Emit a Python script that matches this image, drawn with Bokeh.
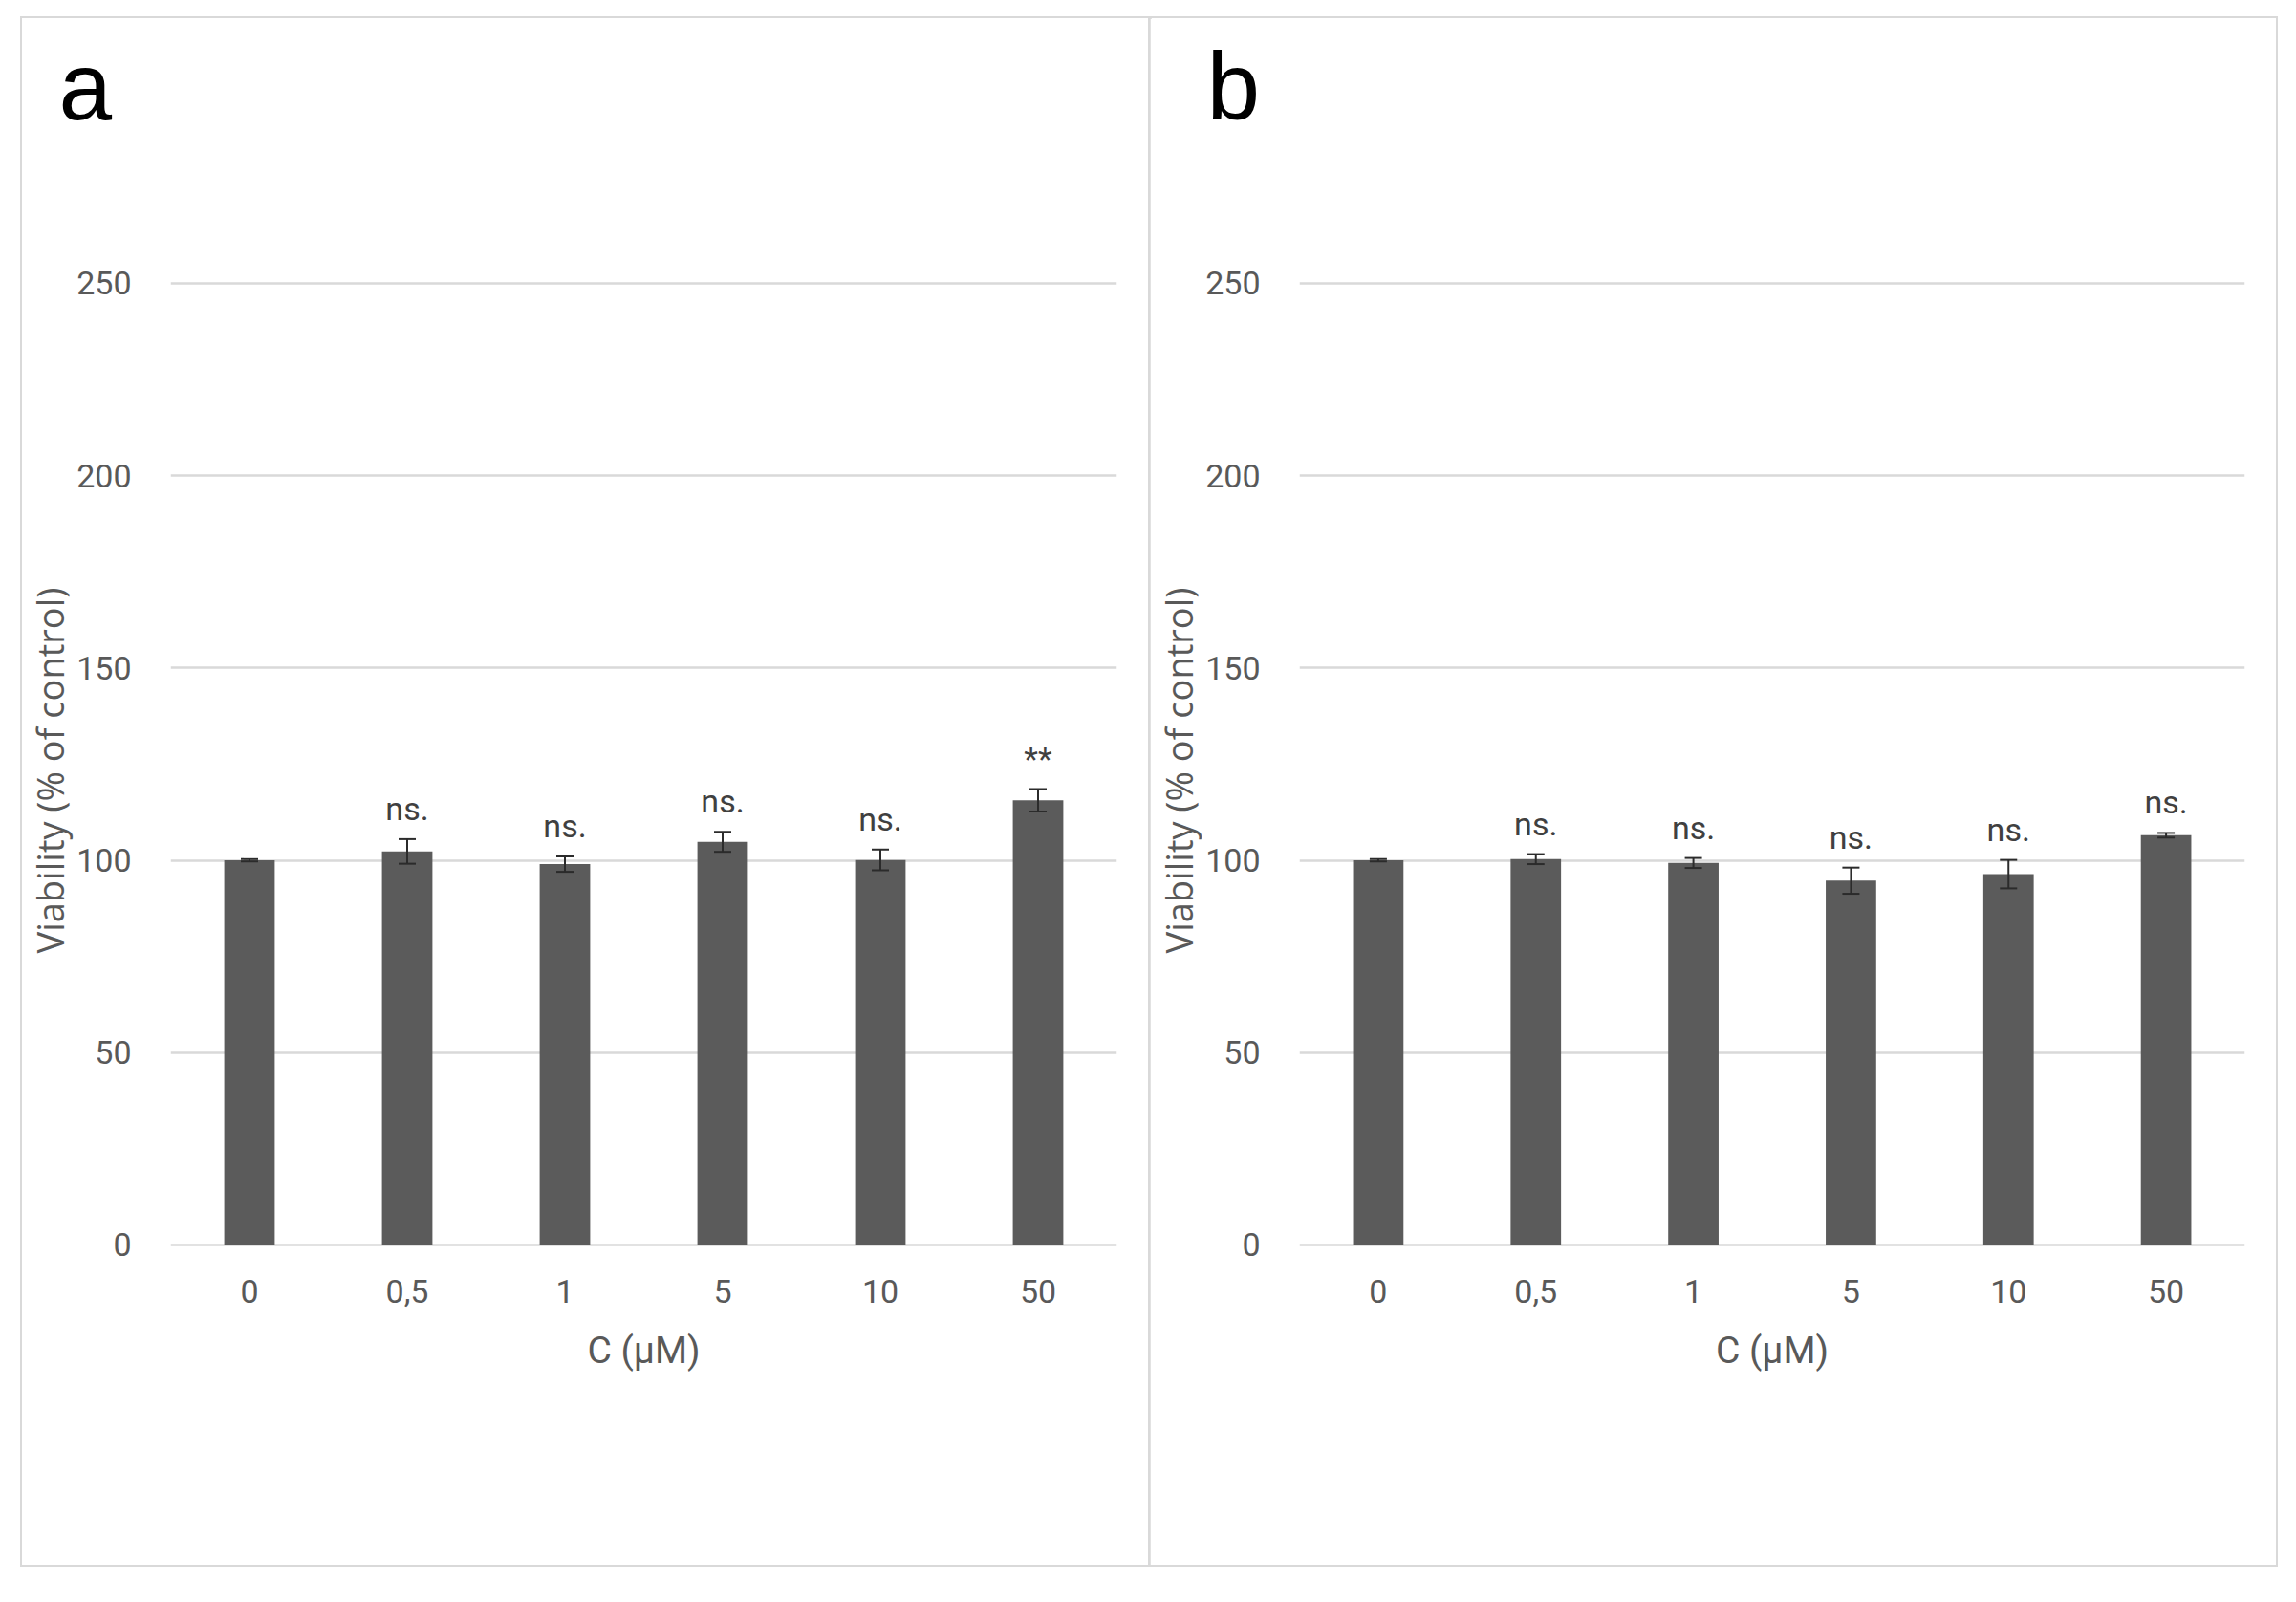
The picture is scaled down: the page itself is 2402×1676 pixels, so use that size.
from bokeh.plotting import figure
from bokeh.models import ColumnDataSource, Whisker, TeeHead, FixedTicker, Range1d, Title
from bokeh.layouts import row
from bokeh.core.properties import value
from bokeh.embed import file_html
from bokeh.resources import INLINE

# ---- data ----
categories = ["0", "0,5", "1", "5", "10", "50"]
y_ticks = [0, 50, 100, 150, 200, 250]

mean_a = [100.0, 102.3, 99.0, 104.8, 100.1, 115.6]
err_a = [0.3, 3.2, 2.0, 2.6, 2.7, 2.9]
sig_a = ["", "ns.", "ns.", "ns.", "ns.", "**"]

mean_b = [100.0, 100.3, 99.3, 94.7, 96.4, 106.5]
err_b = [0.3, 1.3, 1.3, 3.4, 3.7, 0.6]
sig_b = ["", "ns.", "ns.", "ns.", "ns.", "ns."]

x_title = "C (µM)"
y_title = "Viability (% of control)"

BAR = "#5b5b5b"
GRID = "#d9d9d9"
TXT = "#595959"
ERR = "#2b2b2b"


def make_panel(letter, means, errs, sigs, width, mbl, mbr, title_offset):
    src = ColumnDataSource(dict(
        cat=categories, mean=means,
        upper=[m + e for m, e in zip(means, errs)],
        lower=[m - e for m, e in zip(means, errs)],
        sig=sigs,
    ))
    # frame extends above the 250 gridline to leave room for the panel letter
    p = figure(x_range=categories, y_range=Range1d(-2, 287),
               width=width, height=1618,
               output_backend="svg", toolbar_location=None,
               min_border_left=mbl, min_border_right=mbr,
               min_border_top=128, min_border_bottom=327)
    p.background_fill_color = "white"
    p.border_fill_color = "white"
    p.outline_line_color = None

    p.vbar(x="cat", top="mean", bottom=0, width=0.32, source=src,
           fill_color=BAR, line_color=None)

    head = dict(size=18, line_color=ERR, line_width=2)
    w = Whisker(base="cat", upper="upper", lower="lower", source=src,
                line_color=ERR, line_width=2,
                upper_head=TeeHead(**head), lower_head=TeeHead(**head),
                level="overlay")
    p.add_layout(w)

    p.text(x="cat", y="upper", text="sig", source=src,
           text_align="center", text_baseline="bottom", y_offset=-12,
           text_font=value("Roboto"), text_font_size="34px",
           text_color="#404040")

    p.xgrid.grid_line_color = None
    p.ygrid.grid_line_color = GRID
    p.ygrid.grid_line_width = 2.5
    p.yaxis.ticker = FixedTicker(ticks=y_ticks)

    for ax in (p.xaxis[0], p.yaxis[0]):
        ax.axis_line_color = None
        ax.major_tick_line_color = None
        ax.minor_tick_line_color = None
        ax.major_tick_in = 0
        ax.major_tick_out = 0
        ax.major_label_text_font = "Roboto"
        ax.major_label_text_font_size = "34px"
        ax.major_label_text_color = TXT

    p.yaxis.major_label_standoff = 41

    # y-axis title as a left-side title so it can be centred on the 0-250 span
    ytitle = Title(text=y_title, align="left", offset=313, standoff=0,
                   text_font="Open Sans", text_font_size="38px",
                   text_font_style="normal", text_color=TXT)
    p.add_layout(ytitle, "left")

    p.xaxis.major_label_standoff = 28
    p.xaxis.axis_label = x_title
    p.xaxis.axis_label_text_font = "Roboto"
    p.xaxis.axis_label_text_font_size = "39px"
    p.xaxis.axis_label_text_font_style = "normal"
    p.xaxis.axis_label_text_color = TXT
    p.xaxis.axis_label_standoff = 24

    # panel letter
    p.title.text = letter
    p.title.text_font = "Liberation Sans"
    p.title.text_font_size = "100px"
    p.title.text_font_style = "normal"
    p.title.text_color = "black"
    p.title.align = "left"
    p.title.vertical_align = "top"
    p.title.offset = title_offset
    p.title.standoff = 0

    p.styles = {"outline": "2px solid #d9d9d9"}
    return p


pa = make_panel("a", mean_a, err_a, sig_a, 1180, 155, 35, -117)
pb = make_panel("b", mean_b, err_b, sig_b, 1178, 156, 33, -97)
pa.margin = (19, 0, 0, 23)
pb.margin = (19, 0, 0, 0)

layout = row(pa, pb)
open("out.html", "w").write(file_html(layout, INLINE))
